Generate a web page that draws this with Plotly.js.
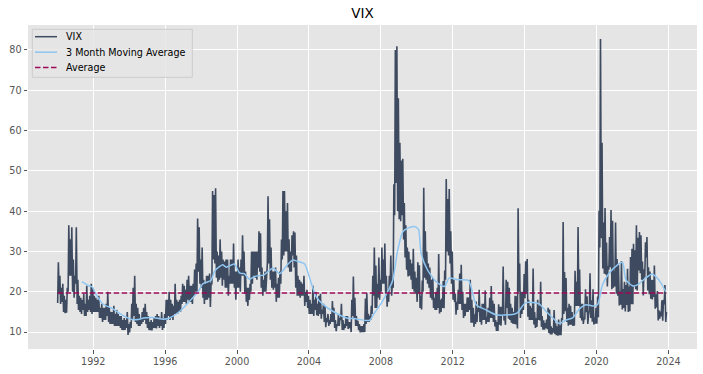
<!DOCTYPE html>
<html><head><meta charset="utf-8">
<script src="https://cdn.plot.ly/plotly-3.0.1.min.js"></script>
<style>html,body{margin:0;padding:0;background:#fff;}#chart{width:703px;height:374px;}</style>
</head><body><div id="chart"></div>
<script>
// Monthly VIX (lowest / highest close of each month), Jan 1990 - Nov 2023
const startYear = 1990;
const vixLow = [
17.2,19.5,17.0,17.5,15.0,14.7,14.8,20.0,24.0,24.0,20.0,18.5,
22.0,17.0,15.5,15.0,14.5,15.5,14.0,14.0,15.0,15.5,15.0,14.5,
15.0,15.0,15.0,15.0,13.5,13.5,12.5,13.0,13.0,14.0,12.5,12.0,
12.0,12.0,11.5,11.5,11.5,11.5,11.0,10.5,10.5,10.5,11.0,9.3,
9.9,11.0,13.0,14.0,12.5,12.0,11.5,11.5,12.0,12.5,13.0,12.0,
11.0,10.5,10.5,10.4,11.0,11.0,10.9,11.5,11.0,11.5,10.5,11.0,
12.0,13.0,14.0,13.0,13.5,13.0,14.5,14.5,14.5,15.0,15.0,17.0,
17.5,17.5,17.0,18.0,17.5,17.5,17.0,19.0,20.0,20.0,25.0,22.0,
21.0,18.5,17.0,18.0,18.0,18.5,16.2,22.0,28.0,27.0,23.5,22.5,
23.0,23.5,21.5,23.0,21.0,21.0,19.0,22.0,22.0,22.0,21.0,18.0,
21.0,21.0,20.0,24.0,24.0,19.5,17.5,16.5,18.0,20.0,22.0,24.0,
23.5,23.0,26.0,25.0,21.0,19.0,20.0,20.0,27.0,27.0,23.0,21.0,
20.5,21.0,17.5,18.5,18.5,22.0,28.0,29.0,30.0,30.0,26.0,25.0,
25.0,29.0,26.0,21.0,19.0,19.0,18.5,19.0,19.0,16.5,17.5,16.0,
14.5,14.5,14.5,14.0,15.5,14.2,14.0,14.5,13.3,14.5,12.5,11.2,
12.5,11.5,12.0,12.5,12.5,11.0,10.2,11.5,11.5,13.0,10.5,10.5,
11.0,11.5,10.8,11.0,10.0,14.0,13.5,11.5,11.5,10.5,9.9,10.0,
10.0,10.0,12.0,12.5,12.5,13.0,14.5,19.0,16.0,16.0,18.5,18.0,
20.0,22.0,22.0,19.5,16.3,17.5,21.0,19.0,21.0,39.0,47.0,40.0,
38.0,37.5,39.0,33.0,28.5,25.5,23.8,24.0,23.0,20.7,20.0,19.5,
17.5,19.5,16.0,15.6,20.0,23.5,23.0,22.0,21.0,18.5,18.0,16.0,
15.5,15.5,16.0,14.6,15.0,16.0,15.9,23.0,30.0,29.0,27.0,22.0,
18.0,17.5,14.3,15.5,17.0,17.0,15.5,13.5,14.0,15.0,15.0,15.5,
12.3,12.3,11.3,12.0,12.5,15.0,12.5,11.8,13.0,13.0,12.0,12.5,
12.5,13.5,13.5,12.5,11.4,10.3,10.3,11.8,11.6,14.0,12.9,11.8,
16.0,13.3,13.0,12.3,12.1,12.0,11.9,10.9,20.0,13.5,14.5,15.5,
18.4,19.5,13.8,13.0,13.0,13.0,11.9,11.0,11.3,13.0,12.9,11.3,
10.6,10.6,11.0,10.7,9.8,9.4,9.4,9.9,9.5,9.2,9.1,9.2,
9.2,13.0,14.5,15.2,12.5,11.6,11.8,11.8,11.5,11.6,16.5,16.5,
16.5,13.5,12.9,12.0,13.1,14.9,12.0,15.5,13.5,12.6,11.9,12.1,
12.1,13.7,31.0,33.3,25.8,24.5,24.3,21.3,25.5,26.1,20.6,21.0,
21.3,19.5,19.0,16.6,16.8,15.6,16.0,15.1,16.7,15.0,15.2,16.9,
16.9,21.4,20.6,20.3,25.3,24.6,23.0,19.1,23.6,28.5,20.3,19.4,
18.3,18.1,18.7,15.8,16.1,12.9,13.3,13.9,12.8,16.9,12.5
];
const vixHigh = [
27.3,24.0,21.0,22.0,19.0,18.0,21.0,36.5,33.0,36.0,28.0,24.0,
36.0,23.0,19.0,18.5,18.0,19.5,17.0,21.5,18.0,19.0,22.0,21.0,
19.0,18.5,18.0,19.0,16.0,17.0,16.0,16.0,17.0,20.0,16.0,15.0,
15.0,16.5,14.5,15.5,14.5,14.0,14.0,13.0,13.5,13.0,15.0,12.0,
12.5,17.0,21.0,24.0,17.0,16.0,14.5,13.5,15.0,16.0,17.0,15.0,
14.0,12.5,13.0,12.5,13.5,14.0,14.5,14.0,13.5,15.0,13.0,14.5,
18.0,18.0,20.0,18.0,17.0,16.5,22.0,18.0,17.5,18.0,19.0,22.0,
21.5,20.5,23.0,24.0,21.5,21.5,22.0,25.5,27.0,38.2,36.0,28.0,
31.0,23.0,22.0,24.0,24.0,24.5,22.0,45.0,44.0,45.7,30.0,29.0,
33.0,30.0,28.0,27.5,28.0,28.0,24.0,28.0,28.0,32.0,25.0,25.0,
28.0,26.0,28.0,34.0,30.0,25.0,21.0,21.0,22.0,30.0,30.0,30.0,
30.0,30.0,35.0,34.5,26.0,23.0,25.0,25.0,43.7,38.0,31.0,25.0,
25.0,26.0,22.0,23.5,25.0,33.0,45.0,45.0,40.0,42.0,33.0,30.0,
34.0,35.0,34.7,29.0,24.0,23.0,22.5,22.0,24.0,20.0,20.5,19.0,
18.0,17.0,21.5,18.0,20.0,17.0,19.0,19.5,15.5,17.0,16.5,13.5,
14.5,13.0,14.5,17.7,16.0,13.0,12.0,14.5,13.5,17.0,13.0,12.0,
14.0,14.0,12.5,12.5,18.0,23.8,18.5,14.0,12.8,12.0,11.5,11.5,
12.0,18.3,19.6,14.5,14.0,16.5,24.0,31.0,26.5,22.0,28.5,23.0,
31.0,28.0,32.0,24.0,20.0,24.0,29.0,22.0,46.7,80.0,80.9,68.0,
57.0,52.6,53.0,42.0,36.5,31.0,30.0,28.0,27.0,30.7,25.0,23.5,
27.3,26.6,19.0,22.8,45.8,35.0,30.0,27.0,26.0,23.0,23.5,18.5,
20.0,21.0,29.4,18.0,18.3,22.7,25.3,48.0,43.0,45.5,35.0,30.0,
23.0,19.5,17.5,20.5,24.5,26.7,20.0,17.0,17.0,18.6,18.6,23.0,
18.0,16.0,14.4,17.6,16.0,20.5,16.0,17.0,17.0,20.3,13.8,16.0,
18.5,21.4,17.8,17.0,13.0,12.5,16.9,16.3,16.3,26.3,14.0,23.0,
22.5,21.0,17.0,16.0,15.0,19.0,18.9,40.7,27.0,20.0,20.0,24.4,
27.6,28.1,18.0,16.5,16.0,25.8,15.0,13.5,18.0,16.5,22.5,14.0,
12.9,12.2,13.1,16.0,15.6,11.4,11.0,15.5,12.2,11.4,13.1,11.7,
13.5,37.3,24.9,23.4,16.0,17.0,16.5,15.0,14.0,25.2,22.5,36.1,
25.5,17.0,17.0,13.5,20.6,18.9,14.0,24.6,17.9,20.6,13.6,16.0,
18.8,40.1,82.7,57.0,37.2,40.8,32.2,26.4,33.6,40.3,37.6,25.1,
37.2,28.1,26.7,20.1,27.6,20.7,22.5,21.7,25.7,21.3,28.6,30.7,
31.9,30.3,36.5,33.4,34.8,34.0,27.5,25.6,32.3,33.6,26.1,25.0,
23.0,22.9,26.5,19.4,20.2,15.4,15.1,17.9,18.0,21.7,15.0
];
// Moving average (decimal year, value)
const maYears = [1991.37,1991.75,1991.95,1992.1,1992.55,1993.0,1993.55,1994.1,1994.5,1994.8,1995.3,1995.9,1996.25,1996.8,1997.35,1997.85,1998.1,1998.55,1998.76,1999.04,1999.2,1999.4,1999.85,2000.15,2000.4,2000.7,2000.98,2001.5,2002.0,2002.37,2002.8,2003.1,2003.35,2003.76,2004.13,2004.4,2004.8,2005.35,2006.1,2006.6,2007.37,2007.65,2008.0,2008.48,2008.67,2008.94,2009.22,2009.5,2009.87,2010.1,2010.24,2010.6,2011.08,2011.54,2011.8,2012.27,2012.88,2013.3,2013.85,2014.4,2015.15,2015.45,2015.6,2016.07,2016.8,2017.2,2017.57,2017.93,2018.3,2018.67,2019.04,2019.4,2019.78,2020.06,2020.33,2020.7,2021.17,2021.45,2021.63,2022.0,2022.27,2022.73,2023.1,2023.37,2023.6,2023.85];
const maValues = [22.5,21.5,21.2,19.8,16.9,16.0,14.4,13.2,13.1,13.5,13.6,13.2,13.5,15.1,17.6,20.1,22.0,22.8,25.2,26.3,26.7,26.1,26.9,24.6,24.5,23.1,23.8,24.2,25.9,24.5,26.7,27.9,27.6,26.9,22.1,18.8,16.8,15.1,13.5,13.3,12.9,14.8,17.0,20.9,23.0,30.4,34.9,35.8,36.2,35.4,29.6,25.4,22.5,21.3,23.4,23.0,22.8,16.8,15.5,14.3,14.3,14.5,14.8,17.3,17.0,15.1,13.5,12.1,13.0,13.5,15.7,16.8,16.5,16.8,21.7,24.6,26.7,27.3,23.0,21.5,21.7,23.4,24.4,23.4,22.1,20.0];
const averageValue = 19.7;
const xTickYears = [1992,1996,2000,2004,2008,2012,2016,2020,2024];
const yTickValues = [10,20,30,40,50,60,70,80];
const seriesNames = ['VIX','3 Month Moving Average','Average'];

function pad(n){return n<10?'0'+n:''+n;}
const vixX=[], vixY=[];
for (let i=0;i<vixLow.length;i++){
  const y=startYear+Math.floor(i/12), m=i%12+1;
  vixX.push(y+'-'+pad(m)+'-08'); vixY.push(vixLow[i]);
  vixX.push(y+'-'+pad(m)+'-22'); vixY.push(vixHigh[i]);
}
function yearToDate(t){
  const y=Math.floor(t); const s=Date.UTC(y,0,1), e=Date.UTC(y+1,0,1);
  return new Date(s+(t-y)*(e-s)).toISOString().slice(0,10);
}
const maX = maYears.map(yearToDate);

const font = 'DejaVu Sans, sans-serif';
const colors = ['#3d4a5f','#8fc6f2','#9e0a5a'];
const dashes = ['solid','solid','5.5px,2.5px'];
const traces = [
  {x:vixX, y:vixY, type:'scatter', mode:'lines', name:seriesNames[0],
   line:{color:colors[0], width:1.6}},
  {x:maX, y:maValues, type:'scatter', mode:'lines', name:seriesNames[1],
   line:{color:colors[1], width:1.5, shape:'spline', smoothing:0.6}},
  {x:[vixX[0], vixX[vixX.length-1]], y:[averageValue, averageValue], type:'scatter', mode:'lines', name:seriesNames[2],
   line:{color:colors[2], width:1.5, dash:dashes[2]}}
];
const axisCommon = {
  showgrid:true, gridcolor:'#ffffff', gridwidth:1, zeroline:false, showline:false,
  ticks:'outside', ticklen:3.5, tickwidth:1, tickcolor:'#555555',
  tickfont:{family:font, size:9.6, color:'#555555'}
};
// legend box drawn in plot-area pixel space (converted to paper fractions)
const PL=28, PW=669, PT=25, PH=324;
const px = v => (v-PL)/PW, py = v => 1-(v-PT)/PH;
const shapes = [{type:'rect', xref:'paper', yref:'paper', x0:px(32.3), x1:px(192.3), y0:py(29.3), y1:py(77.3),
  fillcolor:'rgba(229,229,229,0.8)', line:{color:'#cccccc', width:1}, layer:'above'}];
const annotations = [];
const rowY = [36.7, 52.2, 67.4];
seriesNames.forEach((n,i)=>{
  shapes.push({type:'line', xref:'paper', yref:'paper', x0:px(35), x1:px(57), y0:py(rowY[i]), y1:py(rowY[i]),
    line:{color:colors[i], width:1.5, dash:dashes[i]}, layer:'above'});
  annotations.push({xref:'paper', yref:'paper', x:px(64), y:py(rowY[i]), xanchor:'left', yanchor:'middle',
    text:n, showarrow:false, font:{family:font, size:9.6, color:'#000000'}});
});
const layout = {
  width:703, height:374,
  margin:{l:PL, r:703-PL-PW, t:PT, b:374-PT-PH, pad:0},
  paper_bgcolor:'#ffffff', plot_bgcolor:'#E5E5E5',
  title:{text:'VIX', font:{family:font, size:13.5, color:'#000000'}, x:0.5, xref:'paper', xanchor:'center', y:1-13/374, yref:'container', yanchor:'middle'},
  xaxis:Object.assign({}, axisCommon, {
    type:'date', range:['1988-05-15','2025-08-04'],
    tickmode:'array', tickvals:xTickYears.map(y=>y+'-01-01'), ticktext:xTickYears.map(String)
  }),
  yaxis:Object.assign({}, axisCommon, {
    range:[5.8, 86.2], tickmode:'array', tickvals:yTickValues, ticktext:yTickValues.map(String)
  }),
  showlegend:false,
  shapes:shapes, annotations:annotations
};
Plotly.newPlot('chart', traces, layout, {displayModeBar:false, staticPlot:true});
</script>
</body></html>
